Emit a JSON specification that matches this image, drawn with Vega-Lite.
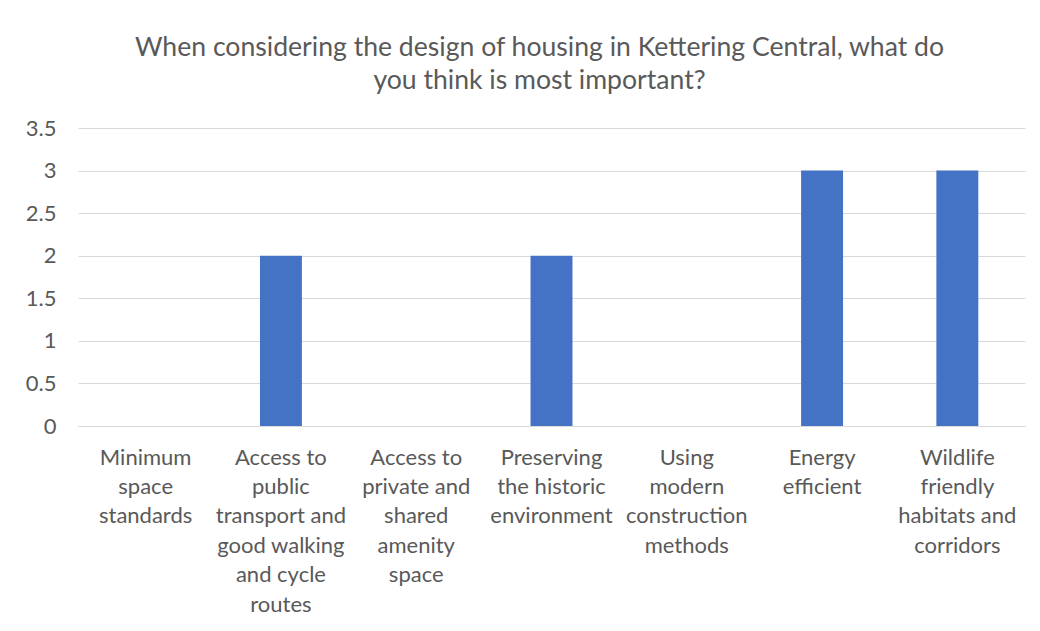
{
  "$schema": "https://vega.github.io/schema/vega-lite/v6.json",
  "width": 947,
  "height": 298,
  "autosize": {"type": "none"},
  "padding": {"left": 78, "top": 128, "right": 15, "bottom": 205},
  "background": "white",
  "title": {
    "text": ["When considering the design of housing in Kettering Central, what do", "you think is most important?"],
    "anchor": "middle",
    "frame": "group",
    "dx": -12,
    "offset": 22,
    "fontSize": 26.6,
    "font": "Lato",
    "fontWeight": "normal",
    "color": "#595959",
    "lineHeight": 33
  },
  "data": {
    "values": [
      {"option": "Minimum space standards", "count": 0},
      {"option": "Access to public transport and good walking and cycle routes", "count": 2},
      {"option": "Access to private and shared amenity space", "count": 0},
      {"option": "Preserving the historic environment", "count": 2},
      {"option": "Using modern construction methods", "count": 0},
      {"option": "Energy efficient", "count": 3},
      {"option": "Wildlife friendly habitats and corridors", "count": 3}
    ]
  },
  "mark": {"type": "bar", "color": "#4472C4"},
  "encoding": {
    "x": {
      "field": "option",
      "type": "nominal",
      "sort": null,
      "scale": {"paddingInner": 0.69, "paddingOuter": 0.345},
      "axis": {
        "title": null,
        "labelAngle": 0,
        "ticks": false,
        "domain": true,
        "domainColor": "#d9d9d9",
        "labelFont": "Lato",
        "labelFontSize": 22,
        "labelColor": "#595959",
        "labelPadding": 31,
        "labelLineHeight": 29.4,
        "labelBaseline": "middle",
        "labelLimit": 200,
        "labelExpr": "({'Minimum space standards': ['Minimum','space','standards'], 'Access to public transport and good walking and cycle routes': ['Access to','public','transport and','good walking','and cycle','routes'], 'Access to private and shared amenity space': ['Access to','private and','shared','amenity','space'], 'Preserving the historic environment': ['Preserving','the historic','environment'], 'Using modern construction methods': ['Using','modern','construction','methods'], 'Energy efficient': ['Energy','efficient'], 'Wildlife friendly habitats and corridors': ['Wildlife','friendly','habitats and','corridors']})[datum.value]"
      }
    },
    "y": {
      "field": "count",
      "type": "quantitative",
      "scale": {"domain": [0, 3.5]},
      "axis": {
        "title": null,
        "values": [0, 0.5, 1, 1.5, 2, 2.5, 3, 3.5],
        "format": ".1~f",
        "ticks": false,
        "domain": false,
        "grid": true,
        "gridColor": "#d9d9d9",
        "labelFont": "Lato",
        "labelFontSize": 22,
        "labelColor": "#595959",
        "labelPadding": 22
      }
    }
  },
  "config": {"view": {"stroke": null}}
}
